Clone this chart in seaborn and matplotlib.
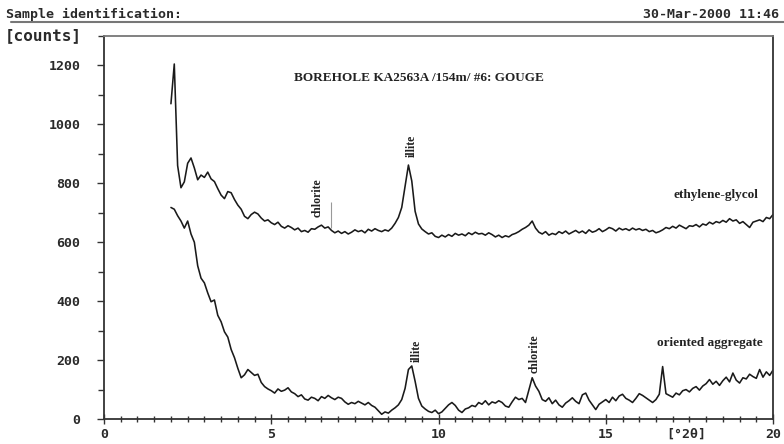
import numpy as np
import pandas as pd
import matplotlib
matplotlib.use("Agg")
import matplotlib.pyplot as plt
from matplotlib.lines import Line2D
from matplotlib.ticker import MultipleLocator
import seaborn as sns

# ---------------- data ----------------
two_theta = np.round(np.arange(2.0, 20.0001, 0.1), 1)   # scan positions, deg 2-theta

ethylene_glycol = [
    1070, 1205, 860, 785, 805, 868, 886, 852, 812, 828,
    820, 838, 815, 806, 782, 760, 748, 772, 768, 745,
    726, 712, 688, 680, 694, 702, 696, 682, 672, 676,
    666, 660, 668, 654, 648, 656, 650, 642, 648, 636,
    640, 634, 646, 644, 652, 658, 648, 652, 640, 632,
    638, 630, 636, 628, 634, 642, 636, 640, 632, 644,
    638, 646, 640, 636, 642, 638, 648, 664, 684, 718,
    790, 862, 808, 705, 662, 645, 636, 628, 632, 620,
    616, 624, 618, 626, 620, 630, 624, 628, 622, 632,
    626, 634, 628, 630, 624, 632, 626, 618, 624, 616,
    622, 618, 626, 630, 636, 644, 650, 658, 672, 648,
    634, 628, 636, 624, 630, 626, 636, 630, 638, 628,
    634, 640, 632, 638, 630, 642, 634, 638, 646, 636,
    642, 650, 646, 638, 648, 642, 646, 640, 648, 642,
    646, 640, 644, 636, 640, 632, 636, 642, 650, 646,
    654, 648, 658, 652, 646, 656, 654, 660, 652, 662,
    658, 668, 662, 670, 666, 674, 668, 680, 672, 676,
    664, 670, 660, 650, 668, 672, 676, 670, 684, 680,
    694,
]

oriented_aggregate = [
    718, 712, 690, 672, 648, 672, 628, 600, 520, 478,
    462, 428, 398, 404, 352, 330, 296, 278, 236, 208,
    172, 140, 150, 168, 158, 148, 152, 124, 110, 102,
    96, 88, 102, 94, 98, 106, 92, 86, 76, 82,
    68, 64, 74, 70, 62, 76, 70, 80, 72, 66,
    74, 70, 58, 50, 56, 52, 60, 54, 48, 56,
    46, 40, 28, 16, 24, 20, 30, 38, 48, 66,
    104, 168, 180, 128, 70, 44, 34, 26, 22, 30,
    18, 24, 36, 48, 56, 46, 30, 22, 34, 38,
    46, 42, 56, 50, 62, 48, 58, 54, 62, 56,
    44, 40, 58, 74, 66, 70, 56, 98, 140, 112,
    94, 66, 60, 72, 52, 64, 48, 40, 54, 62,
    72, 60, 52, 82, 88, 64, 48, 32, 50, 58,
    66, 56, 74, 62, 78, 84, 70, 64, 56, 70,
    86, 80, 72, 64, 56, 66, 84, 178, 86, 80,
    74, 88, 82, 96, 100, 92, 104, 110, 98, 112,
    120, 134, 118, 128, 114, 130, 142, 126, 156, 132,
    122, 140, 136, 152, 144, 138, 168, 142, 160, 148,
    166,
]

series_names = ["ethylene-glycol", "oriented aggregate"]

y_ticks = [0, 200, 400, 600, 800, 1000, 1200]
x_ticks = [0, 5, 10, 15, 20]

title_text = "BOREHOLE KA2563A /154m/ #6: GOUGE"
header_left = "Sample identification:"
header_right = "30-Mar-2000 11:46"
y_unit = "[counts]"
x_unit = "[\u00b02\u03b8]"
x_unit_pos = 17.4

# peak labels: (text, x, y of label bottom)
peak_labels = [
    ("illite", 9.2, 890),
    ("chlorite", 6.38, 684),
    ("illite", 9.36, 194),
    ("chlorite", 12.86, 156),
]
series_labels = [
    ("ethylene-glycol", 18.3, 762),
    ("oriented aggregate", 18.1, 258),
]
marker_x, marker_lo, marker_hi = 6.79, 650, 738

# ---------------- table ----------------
df = pd.concat([
    pd.DataFrame({"two_theta": two_theta, "counts": ethylene_glycol, "sample": series_names[0]}),
    pd.DataFrame({"two_theta": two_theta, "counts": oriented_aggregate, "sample": series_names[1]}),
], ignore_index=True)

# ---------------- plot ----------------
sns.set_style("ticks")
plt.rcParams["font.family"] = ["DejaVu Sans Mono", "DejaVu Sans"]

fig = plt.figure(figsize=(7.84, 4.44), dpi=100)
ax = fig.add_axes([0.1327, 0.0563, 0.8533, 0.8626])

sns.lineplot(data=df, x="two_theta", y="counts", hue="sample",
             palette={series_names[0]: "#1a1a1a", series_names[1]: "#1a1a1a"},
             linewidth=1.15, legend=False, ax=ax, sort=False)

ax.set_xlim(0, 20)
ax.set_ylim(0, 1300)
ax.set_xlabel("")
ax.set_ylabel("")

mono = dict(family="DejaVu Sans Mono", weight="bold", size=9.5, color="#2a2a2a")

ax.set_yticks(y_ticks)
ax.yaxis.set_minor_locator(MultipleLocator(100))
ax.set_yticklabels([str(v) for v in y_ticks], fontdict=mono)

xt = x_ticks[:4] + [x_unit_pos] + x_ticks[4:]
ax.set_xticks(xt)
ax.xaxis.set_minor_locator(MultipleLocator(0.5))
ax.set_xticklabels([str(v) for v in x_ticks[:4]] + [x_unit] + [str(x_ticks[4])], fontdict=mono)

ax.tick_params(axis="y", which="major", direction="out", length=5, width=1, color="#333", pad=12)
ax.tick_params(axis="y", which="minor", direction="out", length=4, width=1, color="#333")
ax.tick_params(axis="x", which="major", direction="inout", length=7, width=1, color="#333", pad=3)
ax.tick_params(axis="x", which="minor", direction="inout", length=5, width=1, color="#333")
unit_tick = ax.xaxis.get_major_ticks()[4]
unit_tick.tick1line.set_visible(False)
unit_tick.tick2line.set_visible(False)

for side in ["left", "bottom", "right"]:
    ax.spines[side].set_color("#333")
    ax.spines[side].set_linewidth(1.3)
ax.spines["top"].set_color("#777")
ax.spines["top"].set_linewidth(1.3)

# title and annotations (serif)
serif = dict(family=["Liberation Serif", "DejaVu Serif"], weight="bold", color="#222")
ax.text(9.4, 1157, title_text, ha="center", va="center", fontsize=9.5, **serif)
for txt, x, y in peak_labels:
    ax.text(x, y, txt, rotation=90, ha="center", va="bottom", fontsize=8.5, **serif)
for txt, x, y in series_labels:
    ax.text(x, y, txt, ha="center", va="center", fontsize=9.5, **serif)
ax.vlines([marker_x], [marker_lo], [marker_hi], color="#999", linewidth=0.8)

# header
fig.text(0.008, 0.968, header_left, ha="left", va="center", **mono)
fig.text(0.993, 0.968, header_right, ha="right", va="center", **mono)
fig.add_artist(Line2D([0.014, 1.0], [0.950, 0.950], transform=fig.transFigure, color="#777", linewidth=1.5))
fig.text(0.006, 0.919, y_unit, ha="left", va="center", family="DejaVu Sans Mono", weight="bold",
         size=11.5, color="#2a2a2a")

fig.savefig("out.png", dpi=100)
